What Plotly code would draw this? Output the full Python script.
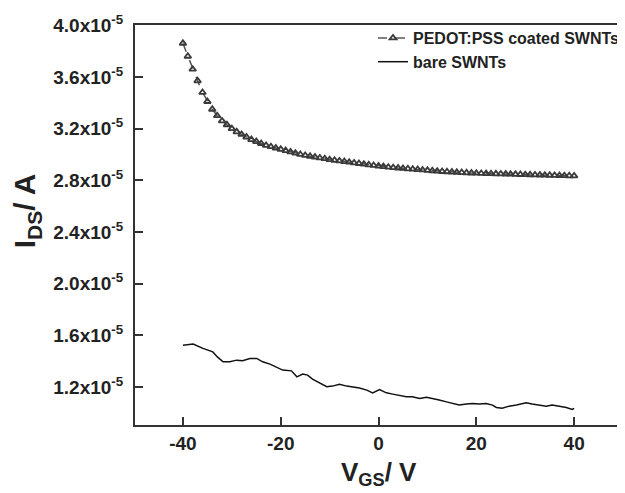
import numpy as np
import plotly.graph_objects as go

# PEDOT:PSS coated SWNTs (units of 1e-5 A), V_GS from -40 to 40 V in 1 V steps
pedot_v = list(range(-40, 41))
pedot_i = [3.86, 3.76, 3.66, 3.57, 3.48, 3.41, 3.35, 3.30, 3.26, 3.23,
           3.20, 3.175, 3.155, 3.135, 3.115, 3.10, 3.085, 3.07, 3.06, 3.05,
           3.04, 3.03, 3.02, 3.01, 3.00, 2.993, 2.986, 2.98, 2.973, 2.967,
           2.96, 2.955, 2.95, 2.945, 2.94, 2.935, 2.93, 2.925, 2.92, 2.915,
           2.91, 2.906, 2.902, 2.898, 2.895, 2.892, 2.889, 2.886, 2.883, 2.88,
           2.877, 2.874, 2.871, 2.868, 2.866, 2.864, 2.862, 2.86, 2.858, 2.856,
           2.855, 2.853, 2.852, 2.851, 2.85, 2.849, 2.848, 2.847, 2.846, 2.845,
           2.844, 2.843, 2.842, 2.841, 2.84, 2.839, 2.838, 2.837, 2.836, 2.835,
           2.834]

# bare SWNTs (units of 1e-5 A)
bare_v = [-40.0, -37.9, -35.9, -33.9, -32.9, -31.8, -30.4, -29.0, -27.8, -26.3,
          -24.9, -23.7, -22.2, -20.8, -19.6, -17.8, -16.7, -15.5, -14.5, -13.5,
          -12.0, -10.6, -9.4, -8.0, -6.5, -5.3, -3.9, -2.4, -1.2, 0.2,
          1.6, 2.9, 4.3, 5.7, 6.9, 8.4, 9.8, 11.0, 12.4, 13.9,
          15.1, 16.5, 18.0, 19.2, 20.6, 22.0, 23.3, 24.1, 25.3, 26.7,
          28.2, 30.2, 31.4, 32.9, 34.3, 35.5, 36.9, 38.4, 39.6, 40.0]
bare_i = [1.524, 1.532, 1.499, 1.472, 1.431, 1.395, 1.395, 1.408, 1.403, 1.421,
          1.421, 1.395, 1.377, 1.354, 1.331, 1.325, 1.279, 1.300, 1.292, 1.261,
          1.230, 1.202, 1.207, 1.222, 1.207, 1.199, 1.192, 1.176, 1.155, 1.181,
          1.155, 1.145, 1.137, 1.124, 1.124, 1.112, 1.120, 1.112, 1.099, 1.085,
          1.073, 1.060, 1.068, 1.073, 1.068, 1.073, 1.060, 1.042, 1.035, 1.052,
          1.060, 1.078, 1.068, 1.060, 1.052, 1.060, 1.052, 1.042, 1.027, 1.035]

y_ticks = [1.2, 1.6, 2.0, 2.4, 2.8, 3.2, 3.6, 4.0]
y_tick_text = ["%.1fx10<sup>-5</sup>" % t for t in y_ticks]
x_ticks = [-40, -20, 0, 20, 40]
x_tick_text = ["-40", "-20", "0", "20", "40"]

scale = 1e-5
FONT = "Liberation Sans, Arial, sans-serif"

fig = go.Figure()
fig.add_trace(go.Scatter(
    x=pedot_v, y=[v * scale for v in pedot_i],
    mode="lines+markers", name="PEDOT:PSS coated SWNTs",
    line=dict(color="#555555", width=1.5, dash="dash"),
    marker=dict(symbol="triangle-up-open", size=6, color="#3a3a3a",
                line=dict(width=1.8, color="#3a3a3a")),
))
fig.add_trace(go.Scatter(
    x=bare_v, y=[v * scale for v in bare_i],
    mode="lines", name="bare SWNTs",
    line=dict(color="#111111", width=1.5),
))

axis_common = dict(
    showline=True, linecolor="#333333", linewidth=2,
    ticks="inside", ticklen=8, tickwidth=2, tickcolor="#333333",
    showgrid=False, zeroline=False,
    tickfont=dict(family=FONT, size=19, color="#222222", weight="bold"),
)

fig.update_layout(
    width=625, height=493,
    # page body adds an 8 px offset; margins compensate for it
    margin=dict(l=127, r=8, t=17, b=76, autoexpand=False),
    paper_bgcolor="white", plot_bgcolor="white",
    font=dict(family=FONT, color="#222222"),
    showlegend=True,
    legend=dict(x=1.0, xanchor="right", y=1.01, yanchor="top",
                bgcolor="rgba(0,0,0,0)",
                font=dict(family=FONT, size=16, color="#222222", weight="bold"),
                itemwidth=30, tracegroupgap=0),
    xaxis=dict(range=[-49.8, 50.4], tickvals=x_ticks, ticktext=x_tick_text,
               mirror=True, **axis_common),
    yaxis=dict(range=[0.906 * scale, 4.002 * scale],
               tickvals=[t * scale for t in y_ticks], ticktext=y_tick_text,
               ticklabelstandoff=6, **axis_common),
    annotations=[
        dict(text="V<sub>GS</sub>/ V", xref="paper", yref="paper",
             x=0.498, y=-0.12, xanchor="center", yanchor="middle",
             showarrow=False,
             font=dict(family=FONT, size=26, color="#222222", weight="bold")),
        dict(text="I<sub>DS</sub>/ A", xref="paper", yref="paper",
             x=-0.222, y=0.535, xanchor="center", yanchor="middle",
             textangle=-90, showarrow=False,
             font=dict(family=FONT, size=30, color="#222222", weight="bold")),
    ],
)

fig.write_html("out.html")
